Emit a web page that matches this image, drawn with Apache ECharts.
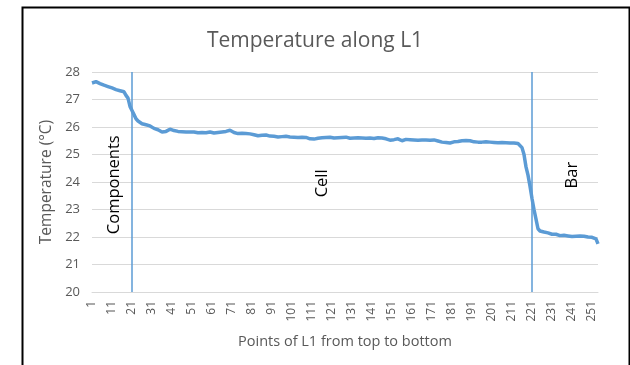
<!DOCTYPE html>
<html><head><meta charset="utf-8">
<script src="https://cdn.jsdelivr.net/npm/echarts@6/dist/echarts.min.js"></script>
<style>html,body{margin:0;padding:0;background:#fff}#c{width:630px;height:365px}</style>
</head><body><div id="c"></div>
<script>
var title = 'Temperature along L1';
var xName = 'Points of L1 from top to bottom';
var yName = 'Temperature (°C)';
var yTicks = [20, 21, 22, 23, 24, 25, 26, 27, 28];
var regionBounds = ['21', '221'];
var regionLabels = [
  { text: 'Components', at: ['12', 23.9] },
  { text: 'Cell', at: ['116', 23.95] },
  { text: 'Bar', at: ['241', 24.25] }
];
var temperature = [
27.60,27.62,27.65,27.64,27.58,27.55,27.52,27.48,27.47,27.44,
27.42,27.38,27.36,27.34,27.32,27.30,27.28,27.15,27.05,26.75,
26.60,26.45,26.30,26.22,26.15,26.12,26.10,26.08,26.05,26.04,
26.00,25.95,25.92,25.90,25.85,25.82,25.80,25.84,25.88,25.92,
25.90,25.87,25.85,25.84,25.88,25.83,25.80,25.82,25.81,25.82,
25.80,25.82,25.81,25.79,25.82,25.80,25.81,25.79,25.80,25.82,
25.80,25.78,25.81,25.80,25.79,25.82,25.80,25.84,25.82,25.88,
25.84,25.80,25.78,25.76,25.79,25.77,25.75,25.76,25.74,25.75,
25.73,25.72,25.70,25.68,25.72,25.70,25.69,25.71,25.68,25.67,
25.69,25.66,25.68,25.64,25.66,25.65,25.63,25.66,25.62,25.64,
25.62,25.63,25.60,25.62,25.61,25.63,25.60,25.62,25.58,25.57,
25.60,25.56,25.58,25.59,25.62,25.61,25.63,25.62,25.61,25.63,
25.62,25.60,25.63,25.61,25.64,25.62,25.60,25.63,25.61,25.59,
25.62,25.60,25.58,25.61,25.63,25.60,25.62,25.59,25.61,25.60,
25.62,25.58,25.60,25.61,25.63,25.60,25.58,25.57,25.55,25.52,
25.56,25.54,25.55,25.57,25.53,25.50,25.53,25.55,25.52,25.54,
25.56,25.53,25.55,25.52,25.56,25.53,25.51,25.53,25.55,25.52,
25.50,25.53,25.51,25.49,25.47,25.45,25.47,25.44,25.43,25.42,
25.44,25.46,25.48,25.47,25.49,25.50,25.48,25.51,25.49,25.50,
25.47,25.46,25.48,25.45,25.47,25.45,25.44,25.46,25.43,25.45,
25.47,25.44,25.46,25.43,25.42,25.44,25.41,25.43,25.45,25.42,
25.40,25.42,25.38,25.40,25.36,25.25,25.00,24.55,24.25,23.85,
23.40,23.00,22.65,22.30,22.22,22.28,22.18,22.20,22.15,22.12,
22.10,22.08,22.10,22.07,22.05,22.08,22.06,22.07,22.04,22.05,
22.02,22.06,22.03,22.00,22.04,22.07,22.03,22.01,22.00,21.98,
21.99,21.96,21.93,21.75
];
var categories = [];
for (var i = 1; i <= temperature.length; i++) categories.push(String(i));

var chart = echarts.init(document.getElementById('c'), null, {renderer: 'canvas'});
var font = '"Open Sans", "Liberation Sans", sans-serif';
var blue = '#5B9BD5';
chart.setOption({
  animation: false,
  backgroundColor: '#fff',
  textStyle: { fontFamily: font },
  title: {
    text: title, left: 'center', top: 26,
    textStyle: { fontFamily: font, fontSize: 21, fontWeight: 'normal', color: '#595959' }
  },
  graphic: [{
    type: 'rect', left: 20, top: 5, shape: { width: 607, height: 380 },
    style: { fill: 'none', stroke: '#000', lineWidth: 2 }, silent: true, z: 100
  }],
  grid: { left: 92, right: 32, top: 72, bottom: 73 },
  xAxis: {
    type: 'category', data: categories, boundaryGap: false,
    name: xName, nameLocation: 'middle', nameGap: 42,
    nameTextStyle: { fontFamily: font, fontSize: 14.5, color: '#595959' },
    axisLine: { lineStyle: { color: '#d9d9d9', width: 1 } },
    axisTick: { show: false },
    axisLabel: { interval: 9, rotate: 90, margin: 9, fontSize: 12, color: '#595959', fontFamily: font },
    splitLine: { show: false }
  },
  yAxis: {
    type: 'value', min: yTicks[0], max: yTicks[yTicks.length - 1], interval: 1,
    name: yName, nameLocation: 'middle', nameGap: 34,
    nameTextStyle: { fontFamily: font, fontSize: 15.5, color: '#595959' },
    axisLine: { show: false }, axisTick: { show: false },
    axisLabel: { margin: 12, fontSize: 13, color: '#595959', fontFamily: font },
    splitLine: { lineStyle: { color: '#d9d9d9', width: 1 } }
  },
  series: [{
    type: 'line', data: temperature, showSymbol: false, symbol: 'none',
    lineStyle: { color: blue, width: 3.5 },
    itemStyle: { color: blue },
    markLine: {
      silent: true, symbol: 'none', animation: false,
      label: { show: false },
      lineStyle: { color: blue, width: 1.5, type: 'solid' },
      data: regionBounds.map(function (c) { return { xAxis: c }; })
    },
    markPoint: {
      silent: true, symbol: 'circle', symbolSize: 0, animation: false,
      label: { show: true, position: 'inside', rotate: 90, color: '#000', fontSize: 16.5, fontFamily: font },
      data: regionLabels.map(function (r) {
        return { coord: r.at, value: r.text, label: { formatter: r.text } };
      })
    }
  }]
});
</script></body></html>
